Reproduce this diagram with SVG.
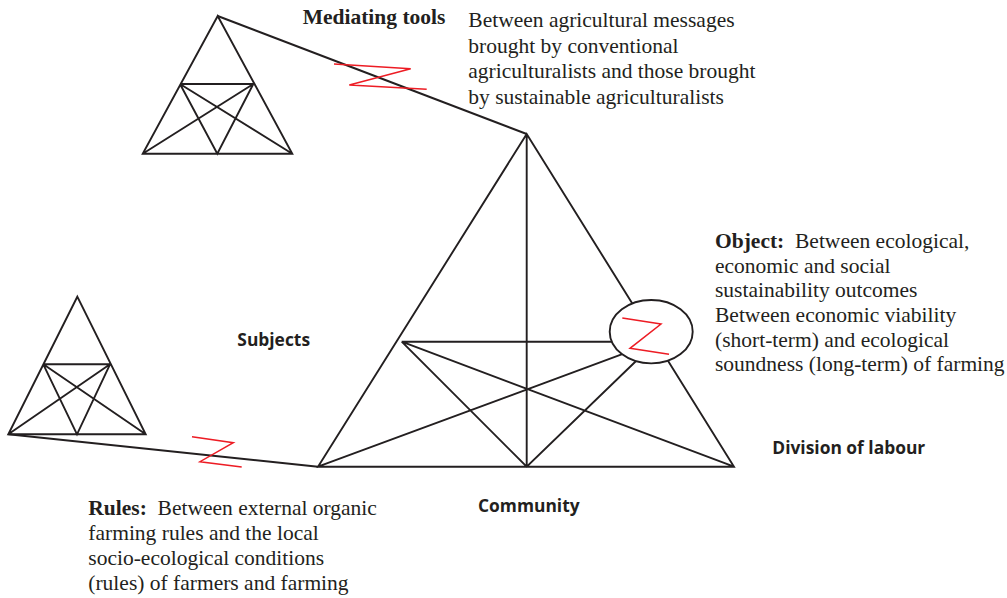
<svg xmlns="http://www.w3.org/2000/svg" width="1007" height="598" viewBox="0 0 1007 598">
<style>
.ln{fill:none;stroke:#231f20;stroke-width:1.9;stroke-linejoin:miter;stroke-linecap:butt}
.zz{fill:none;stroke:#ed1c24;stroke-width:1.5}
.ser{font-family:"Liberation Serif","Times New Roman",serif;font-size:21.5px;fill:#231f20}
.b{font-weight:bold}
.lab{font-family:"Open Sans","Liberation Sans",sans-serif;font-weight:bold;font-size:17.4px;fill:#231f20}
</style>
<rect width="1007" height="598" fill="#fff"/>
<g id="connectors">
  <line class="ln" x1="217.7" y1="16" x2="526.7" y2="134"/>
  <polyline class="zz" points="334,64 410.7,68.7 349.3,85 426.7,89.3"/>
  <line class="ln" x1="8.3" y1="434.3" x2="318" y2="466.7"/>
  <polyline class="zz" points="192,436.7 233.3,442.7 200,461.7 241.7,467"/>
</g>
<g id="tool-triangle">
  <path class="ln" d="M217.7,16 L142.7,153.7 L292.3,153.7 Z M180,84 L253.3,84 M180,84 L217.3,153.7 L253.3,84 M180,84 L292.3,153.7 M253.3,84 L142.7,153.7"/>
</g>
<g id="rules-triangle">
  <path class="ln" d="M77.3,296.7 L8.3,434.3 L145.7,434.3 Z M43.3,364.3 L110,364.3 M43.3,364.3 L77,434.3 L110,364.3 M43.3,364.3 L145.7,434.3 M110,364.3 L8.3,434.3"/>
</g>
<g id="activity-triangle">
  <path class="ln" d="M526.7,134 L318,466.7 L734,466.7 Z M526.7,134 L526.7,466.7 M401.7,341.7 L656,341.7 M401.7,341.7 L526.7,466.7 L656,341.7 M401.7,341.7 L734,466.7 M656,341.7 L318,466.7"/>
</g>
<g id="object-contradiction">
  <ellipse cx="651.2" cy="331.7" rx="41.5" ry="31.7" fill="#fff" stroke="#231f20" stroke-width="1.9"/>
  <polyline class="zz" points="622.3,318 661,324 630,348.3 669,354.3"/>
</g>
<g id="label-mediating">
  <text class="ser b" x="302.7" y="24">Mediating tools</text>
  <text class="ser" x="468.3" y="27">Between agricultural messages</text>
  <text class="ser" x="468.3" y="52.5">brought by conventional</text>
  <text class="ser" x="468.3" y="78">agriculturalists and those brought</text>
  <text class="ser" x="468.3" y="103.5">by sustainable agriculturalists</text>
</g>
<g id="label-object">
  <text class="ser" x="715" y="248"><tspan class="b">Object:</tspan>&#160; Between ecological,</text>
  <text class="ser" x="715" y="272.5">economic and social</text>
  <text class="ser" x="715" y="297">sustainability outcomes</text>
  <text class="ser" x="715" y="322">Between economic viability</text>
  <text class="ser" x="715" y="346.5">(short-term) and ecological</text>
  <text class="ser" x="715" y="371">soundness (long-term) of farming</text>
</g>
<g id="label-rules">
  <text class="ser" x="88.3" y="515"><tspan class="b">Rules:</tspan>&#160; Between external organic</text>
  <text class="ser" x="88.3" y="540">farming rules and the local</text>
  <text class="ser" x="88.3" y="565">socio-ecological conditions</text>
  <text class="ser" x="88.3" y="590">(rules) of farmers and farming</text>
</g>
<g id="label-subjects"><text class="lab" x="237.3" y="346">Subjects</text></g>
<g id="label-community"><text class="lab" x="478" y="511.5">Community</text></g>
<g id="label-division"><text class="lab" x="772.3" y="454">Division of labour</text></g>
</svg>
